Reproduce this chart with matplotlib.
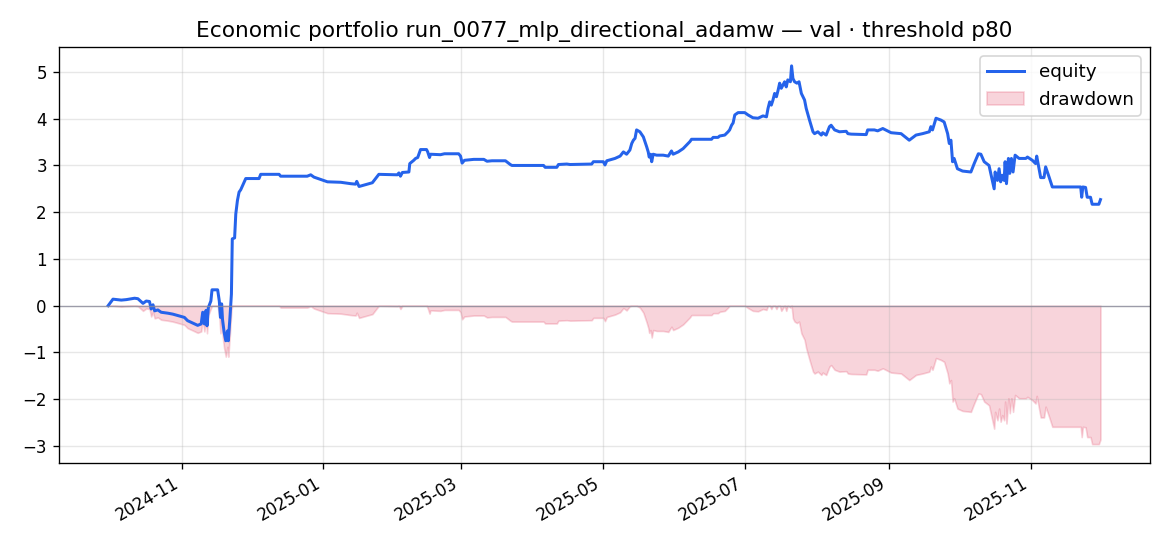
import numpy as np
import pandas as pd
import matplotlib
matplotlib.use("Agg")
import matplotlib.pyplot as plt
import matplotlib.dates as mdates

# equity curve (time, value)
times = [
    "2024-09-30 10:00", "2024-10-02 12:00", "2024-10-06 02:00", "2024-10-08 05:00",
    "2024-10-11 19:00", "2024-10-13 05:00", "2024-10-15 10:00", "2024-10-16 19:00",
    "2024-10-18 05:00", "2024-10-18 22:00", "2024-10-19 17:00", "2024-10-20 10:00",
    "2024-10-21 19:00", "2024-10-23 05:00", "2024-10-26 02:00", "2024-10-28 05:00",
    "2024-10-30 10:00", "2024-11-02 05:00", "2024-11-03 14:00", "2024-11-05 19:00",
    "2024-11-07 22:00", "2024-11-09 10:00", "2024-11-10 02:00", "2024-11-10 19:00",
    "2024-11-11 12:00", "2024-11-11 22:00", "2024-11-12 12:00", "2024-11-13 14:00",
    "2024-11-14 02:00", "2024-11-16 12:00", "2024-11-17 05:00", "2024-11-17 17:00",
    "2024-11-18 05:00", "2024-11-18 14:00", "2024-11-19 07:00", "2024-11-20 00:00",
    "2024-11-20 17:00", "2024-11-21 02:00", "2024-11-21 19:00", "2024-11-22 10:00",
    "2024-11-22 19:00", "2024-11-23 19:00", "2024-11-24 07:00", "2024-11-25 00:00",
    "2024-11-25 17:00", "2024-11-26 10:00", "2024-11-27 14:00", "2024-11-28 14:00",
    "2024-12-04 07:00", "2024-12-05 00:00", "2024-12-12 22:00", "2024-12-13 14:00",
    "2024-12-25 00:00", "2024-12-26 12:00", "2024-12-27 22:00", "2024-12-30 19:00",
    "2025-01-02 17:00", "2025-01-08 10:00", "2025-01-12 17:00", "2025-01-14 19:00",
    "2025-01-15 07:00", "2025-01-16 07:00", "2025-01-18 10:00", "2025-01-22 00:00",
    "2025-01-24 19:00", "2025-02-01 17:00", "2025-02-02 10:00", "2025-02-03 02:00",
    "2025-02-03 22:00", "2025-02-06 17:00", "2025-02-07 02:00", "2025-02-08 19:00",
    "2025-02-09 14:00", "2025-02-10 12:00", "2025-02-11 17:00", "2025-02-14 07:00",
    "2025-02-14 19:00", "2025-02-15 14:00", "2025-02-16 00:00", "2025-02-20 07:00",
    "2025-02-22 00:00", "2025-02-28 02:00", "2025-02-28 22:00", "2025-03-01 14:00",
    "2025-03-02 14:00", "2025-03-06 14:00", "2025-03-10 22:00", "2025-03-12 07:00",
    "2025-03-14 10:00", "2025-03-20 05:00", "2025-03-22 07:00", "2025-03-23 00:00",
    "2025-04-05 14:00", "2025-04-06 07:00", "2025-04-11 07:00", "2025-04-12 00:00",
    "2025-04-15 14:00", "2025-04-17 00:00", "2025-04-26 07:00", "2025-04-27 00:00",
    "2025-05-01 07:00", "2025-05-02 00:00", "2025-05-02 19:00", "2025-05-04 05:00",
    "2025-05-06 07:00", "2025-05-08 12:00", "2025-05-09 22:00", "2025-05-11 07:00",
    "2025-05-12 17:00", "2025-05-13 12:00", "2025-05-14 05:00", "2025-05-14 22:00",
    "2025-05-15 14:00", "2025-05-17 00:00", "2025-05-18 12:00", "2025-05-19 22:00",
    "2025-05-20 14:00", "2025-05-21 00:00", "2025-05-21 14:00", "2025-05-22 02:00",
    "2025-05-22 17:00", "2025-05-24 05:00", "2025-05-27 00:00", "2025-05-29 05:00",
    "2025-05-30 14:00", "2025-05-31 07:00", "2025-06-02 12:00", "2025-06-04 14:00",
    "2025-06-07 12:00", "2025-06-08 05:00", "2025-06-16 19:00", "2025-06-17 12:00",
    "2025-06-19 14:00", "2025-06-20 07:00", "2025-06-22 12:00", "2025-06-23 22:00",
    "2025-06-24 14:00", "2025-06-25 10:00", "2025-06-26 02:00", "2025-06-26 19:00",
    "2025-06-28 05:00", "2025-07-01 02:00", "2025-07-02 12:00", "2025-07-04 14:00",
    "2025-07-06 19:00", "2025-07-08 22:00", "2025-07-10 10:00", "2025-07-11 02:00",
    "2025-07-11 19:00", "2025-07-12 12:00", "2025-07-13 05:00", "2025-07-13 22:00",
    "2025-07-14 17:00", "2025-07-15 10:00", "2025-07-16 02:00", "2025-07-16 19:00",
    "2025-07-18 05:00", "2025-07-18 22:00", "2025-07-19 14:00", "2025-07-20 17:00",
    "2025-07-21 05:00", "2025-07-21 19:00", "2025-07-22 12:00", "2025-07-23 12:00",
    "2025-07-24 10:00", "2025-07-25 10:00", "2025-07-26 19:00", "2025-07-27 12:00",
    "2025-07-28 22:00", "2025-07-30 10:00", "2025-07-31 02:00", "2025-08-01 12:00",
    "2025-08-03 00:00", "2025-08-03 14:00", "2025-08-05 02:00", "2025-08-06 12:00",
    "2025-08-07 05:00", "2025-08-08 17:00", "2025-08-10 19:00", "2025-08-13 17:00",
    "2025-08-14 10:00", "2025-08-15 19:00", "2025-08-22 07:00", "2025-08-22 22:00",
    "2025-08-25 19:00", "2025-08-27 05:00", "2025-08-29 10:00", "2025-09-02 00:00",
    "2025-09-06 07:00", "2025-09-09 19:00", "2025-09-12 17:00", "2025-09-15 12:00",
    "2025-09-18 10:00", "2025-09-19 02:00", "2025-09-19 19:00", "2025-09-21 07:00",
    "2025-09-23 10:00", "2025-09-24 19:00", "2025-09-26 07:00", "2025-09-27 00:00",
    "2025-09-27 17:00", "2025-09-28 10:00", "2025-09-29 02:00", "2025-09-30 12:00",
    "2025-10-02 17:00", "2025-10-06 07:00", "2025-10-07 17:00", "2025-10-09 12:00",
    "2025-10-10 14:00", "2025-10-12 00:00", "2025-10-14 02:00", "2025-10-15 12:00",
    "2025-10-16 07:00", "2025-10-16 17:00", "2025-10-17 17:00", "2025-10-18 10:00",
    "2025-10-19 02:00", "2025-10-19 19:00", "2025-10-20 14:00", "2025-10-21 00:00",
    "2025-10-21 14:00", "2025-10-22 10:00", "2025-10-23 00:00", "2025-10-23 17:00",
    "2025-10-24 10:00", "2025-10-25 07:00", "2025-10-27 00:00", "2025-10-29 22:00",
    "2025-10-30 14:00", "2025-11-01 17:00", "2025-11-03 02:00", "2025-11-03 14:00",
    "2025-11-04 14:00", "2025-11-05 07:00", "2025-11-06 17:00", "2025-11-07 10:00",
    "2025-11-08 22:00", "2025-11-10 07:00", "2025-11-22 12:00", "2025-11-22 22:00",
    "2025-11-23 10:00", "2025-11-24 14:00", "2025-11-25 07:00", "2025-11-26 17:00",
    "2025-11-27 10:00", "2025-11-30 07:00", "2025-12-01 00:00",
]
equity = [
    0.00, 0.14, 0.12, 0.13,
    0.16, 0.15, 0.05, 0.10,
    0.09, -0.07, 0.02, -0.11,
    -0.09, -0.14, -0.16, -0.18,
    -0.21, -0.25, -0.32, -0.37,
    -0.42, -0.39, -0.14, -0.39,
    -0.10, -0.43, -0.04, 0.10,
    0.34, 0.34, 0.10, -0.25,
    0.04, -0.29, -0.57, -0.75,
    -0.54, -0.75, -0.25, 0.25,
    1.43, 1.45, 1.96, 2.25,
    2.43, 2.48, 2.61, 2.72,
    2.72, 2.81, 2.81, 2.77,
    2.77, 2.80, 2.75, 2.70,
    2.65, 2.64, 2.61, 2.60,
    2.66, 2.55, 2.58, 2.63,
    2.81, 2.80, 2.84, 2.77,
    2.85, 2.86, 3.04, 3.11,
    3.15, 3.17, 3.34, 3.34,
    3.29, 3.17, 3.24, 3.23,
    3.25, 3.25, 3.20, 3.05,
    3.11, 3.13, 3.13, 3.09,
    3.10, 3.10, 3.02, 3.00,
    3.00, 2.96, 2.96, 3.02,
    3.03, 3.02, 3.03, 3.08,
    3.08, 3.01, 3.10, 3.12,
    3.15, 3.20, 3.29, 3.24,
    3.33, 3.47, 3.54, 3.58,
    3.76, 3.72, 3.61, 3.40,
    3.29, 3.18, 3.24, 3.08,
    3.24, 3.22, 3.22, 3.20,
    3.31, 3.24, 3.29, 3.36,
    3.51, 3.56, 3.56, 3.60,
    3.60, 3.63, 3.65, 3.72,
    3.76, 3.86, 3.91, 4.08,
    4.13, 4.13, 4.08, 4.02,
    4.01, 4.06, 4.04, 4.22,
    4.36, 4.29, 4.40, 4.54,
    4.47, 4.61, 4.76, 4.65,
    4.79, 4.68, 4.83, 4.79,
    5.13, 4.86, 4.79, 4.76,
    4.79, 4.54, 4.40, 4.22,
    3.97, 3.72, 3.68, 3.72,
    3.65, 3.70, 3.65, 3.83,
    3.86, 3.76, 3.72, 3.73,
    3.68, 3.67, 3.66, 3.76,
    3.76, 3.74, 3.79, 3.70,
    3.68, 3.54, 3.65, 3.68,
    3.72, 3.83, 3.76, 4.01,
    3.97, 3.93, 3.68, 3.47,
    3.54, 3.08, 3.15, 2.93,
    2.88, 2.86, 3.04, 3.25,
    3.24, 3.08, 3.00, 2.68,
    2.50, 2.86, 2.68, 2.93,
    2.65, 2.79, 2.68, 3.08,
    2.61, 3.15, 2.83, 3.15,
    2.86, 3.22, 3.15, 3.15,
    3.18, 3.11, 3.04, 3.20,
    2.93, 2.74, 2.74, 2.97,
    2.75, 2.54, 2.54, 2.32,
    2.54, 2.53, 2.32, 2.32,
    2.17, 2.17, 2.27,
]

t = pd.to_datetime(times)
eq = np.array(equity)
drawdown = eq - np.maximum.accumulate(eq)

fig, ax = plt.subplots(figsize=(9.75, 4.55), dpi=120)
ax.plot(t, eq, color="#2563eb", lw=1.8, label="equity")
ax.fill_between(t, drawdown, 0, color="crimson", alpha=0.18, label="drawdown")
ax.axhline(0, color="#8a8a9a", lw=0.8, alpha=0.8)
ax.grid(alpha=0.3)
ax.set_title("Economic portfolio run_0077_mlp_directional_adamw \u2014 val \u00b7 threshold p80",
             fontsize=13)
ax.legend(loc="upper right", fontsize=11)
ax.xaxis.set_major_locator(mdates.MonthLocator(bymonth=[1, 3, 5, 7, 9, 11]))
ax.xaxis.set_major_formatter(mdates.DateFormatter("%Y-%m"))
fig.autofmt_xdate()
fig.subplots_adjust(left=0.05, right=0.983, top=0.914, bottom=0.152)
fig.savefig("out.png", dpi=120)
